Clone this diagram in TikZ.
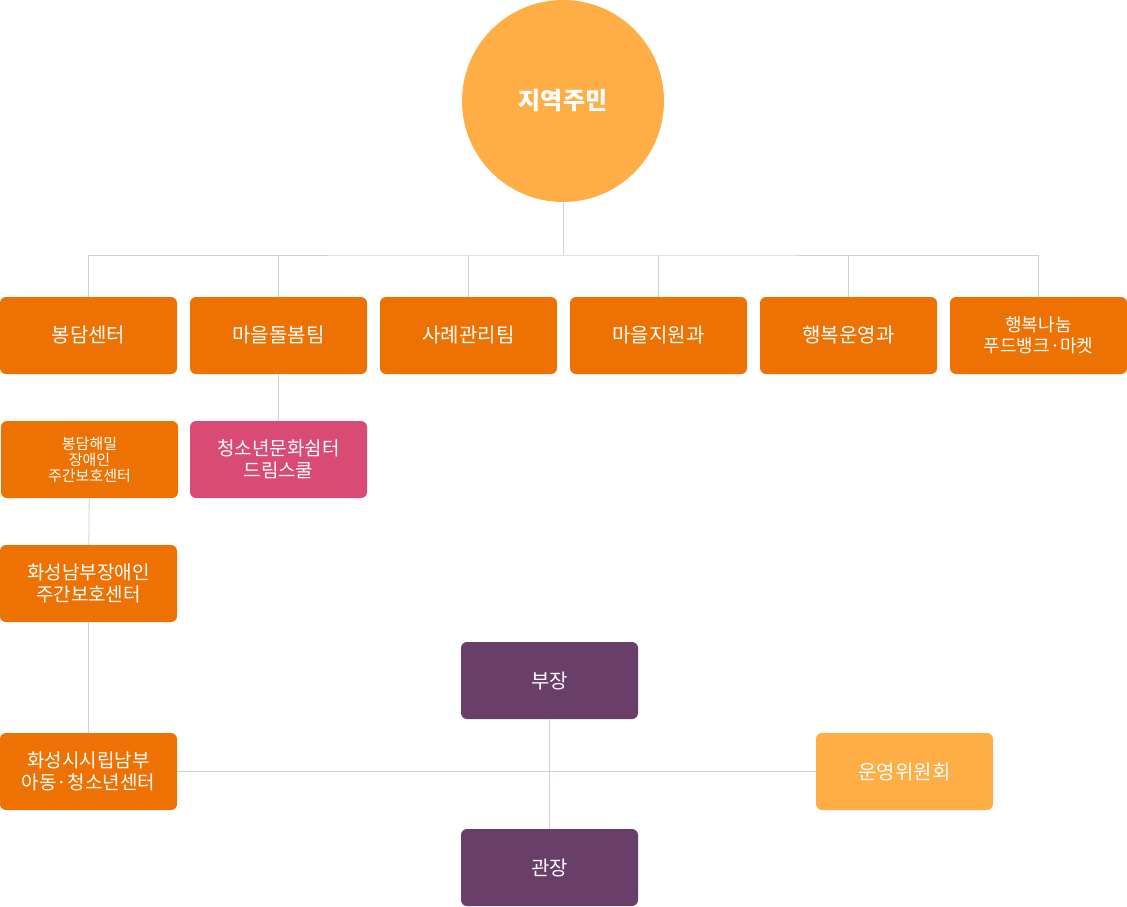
\documentclass[tikz,border=0pt]{standalone}
\usepackage{fontspec}
\setmainfont{Noto Sans CJK KR}
\usetikzlibrary{positioning}
\definecolor{orgmain}{HTML}{EE7203}
\definecolor{orglight}{HTML}{FFAE45}
\definecolor{orgpink}{HTML}{D94A75}
\definecolor{orgpurple}{HTML}{693E68}
\definecolor{orgline}{HTML}{C9D3E0}
\begin{document}
\begin{tikzpicture}[x=1pt, y=-1pt,
		box_style/.style={rectangle, rounded corners=6pt, minimum width=177pt, minimum height=77pt,
			fill=orgmain, text=white, align=center, font=\fontsize{20}{21}\selectfont, inner sep=0pt},
		small_style/.style={box_style, font=\fontsize{15}{16}\selectfont},
		edge_style/.style={draw=orgline, line width=0.8pt}]
		
		\useasboundingbox (0,0) rectangle (1127,906);
		
		\node[circle, fill=orglight, text=white, minimum size=202pt, inner sep=0pt,
		      font=\fontsize{24}{26}\selectfont\bfseries] (resident) at (563,101) {지역주민};
		\coordinate (hub) at (563,255);
		
		\node[box_style] (bongdam) at (88.5,335.5) {봉담센터};
		\node[box_style] (maeul) at (278.5,335.5) {마을돌봄팀};
		\node[box_style] (case) at (468.5,335.5) {사례관리팀};
		\node[box_style] (support) at (658.5,335.5) {마을지원과};
		\node[box_style] (happy) at (848.5,335.5) {행복운영과};
		\node[box_style, font=\fontsize{18}{21}\selectfont] (food) at (1038.5,335.5) {행복나눔\\푸드뱅크·마켓};
		
		\node[small_style] (haemil) at (89.5,459.5) {봉담해밀\\장애인\\주간보호센터};
		\node[box_style, fill=orgpink, font=\fontsize{19}{22}\selectfont] (dream) at (278.5,459.5) {청소년문화쉼터\\드림스쿨};
		\node[box_style, font=\fontsize{19}{22}\selectfont] (south) at (88.5,583.5) {화성남부장애인\\주간보호센터};
		\node[box_style, font=\fontsize{19}{22}\selectfont] (youth) at (88.5,771.5) {화성시시립남부\\아동·청소년센터};
		
		\node[box_style, fill=orgpurple] (head) at (549.5,680.5) {부장};
		\node[box_style, fill=orgpurple] (director) at (549.5,867.5) {관장};
		\node[box_style, fill=orglight] (committee) at (904.5,771.5) {운영위원회};
		
		\draw[edge_style] (resident) -- (hub);
		\draw[edge_style] (bongdam.north) |- (hub) -| (food.north);
		\foreach \n in {maeul, case, support, happy}
			\draw[edge_style] (\n.north) -- (\n.north |- hub);
		\draw[edge_style] (maeul) -- (dream);
		\draw[edge_style] (haemil) -- (south);
		\draw[edge_style] (south) -- (youth);
		\draw[edge_style] (head) -- (director);
		\draw[edge_style] (youth) -- (committee);
		
\end{tikzpicture}
\end{document}
